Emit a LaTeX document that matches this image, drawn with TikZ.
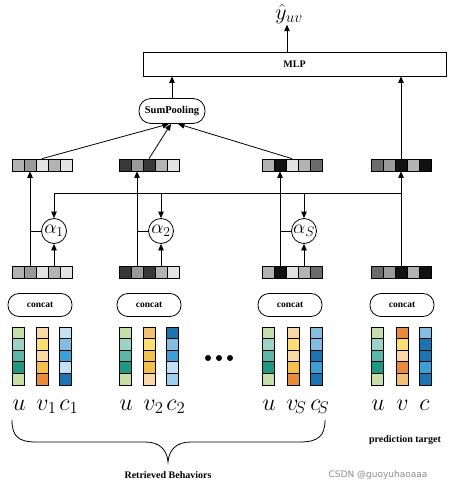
\RequirePackage{fix-cm}
\documentclass[tikz,border=0pt]{standalone}
\usepackage{fontspec}
\setmainfont{Liberation Serif}
\newfontfamily\wmfont{DejaVu Sans}
\usetikzlibrary{arrows.meta,calc}
% grays
\definecolor{ga}{HTML}{B3B3B3}
\definecolor{gb}{HTML}{9A9A9A}
\definecolor{gc}{HTML}{E3E3E3}
\definecolor{gd}{HTML}{383838}
\definecolor{ge}{HTML}{111111}
\definecolor{gf}{HTML}{6B6B6B}
% greens
\definecolor{ua}{HTML}{C6DEA8}
\definecolor{ub}{HTML}{9DD3C6}
\definecolor{uc}{HTML}{5BB8A6}
\definecolor{ud}{HTML}{1E9880}
% oranges
\definecolor{va}{HTML}{F9D8A6}
\definecolor{vb}{HTML}{FADF70}
\definecolor{vc}{HTML}{F5C04A}
\definecolor{vd}{HTML}{E88C3A}
\definecolor{ve}{HTML}{F2BF74}
% blues
\definecolor{ca}{HTML}{C2E1F3}
\definecolor{cb}{HTML}{85BDE0}
\definecolor{cc}{HTML}{3AA0D6}
\definecolor{cd}{HTML}{1C75B3}
\definecolor{ce}{HTML}{9DD0EE}
\newcommand{\embar}[4]{%
  \foreach \cl [count=\i from 0] in {#4} {\filldraw[fill=\cl,draw=black,line width=0.7pt] (#2+12*\i,#3-6) rectangle ++(12,12);}
  \node[bar,anchor=west] (#1) at (#2,#3) {};}
\newcommand{\ecol}[2]{%
  \foreach \cl [count=\i from 0] in {#2} {\filldraw[fill=\cl,draw=black,line width=0.7pt] (#1,327+11.6*\i) rectangle ++(12,11.6);}}
\tikzset{
  bar/.style={draw,line width=0.7pt,minimum width=60,minimum height=12,inner sep=0},
  pill/.style={draw,rounded corners=11pt,minimum width=64,minimum height=23,inner sep=1pt,font=\bfseries\fontsize{9.5}{10}\selectfont},
  att/.style={circle,draw,minimum size=25,inner sep=0,font=\fontsize{19.5}{19.5}\selectfont},
  lbl/.style={anchor=base west,inner sep=0,font=\fontsize{24}{24}\selectfont},
  captext/.style={font=\bfseries\fontsize{10}{11}\selectfont,inner sep=0},
}
\begin{document}
\begin{tikzpicture}[x=1pt,y=-1pt,line width=0.8pt,>={Triangle[length=6.5pt,width=5.5pt]}]
\useasboundingbox (0,0) rectangle (448,490);
% MLP and output
\node[draw,minimum width=303,minimum height=24,inner sep=0,font=\bfseries\fontsize{10}{11}\selectfont] (mlp) at (294.5,64) {MLP};
\node[inner sep=0.5pt,font=\fontsize{22}{22}\selectfont] (yhat) at (289,14) {$\hat{y}_{uv}$};
\draw[->] (287,52) coordinate (mt) -- (mt |- yhat.south);
\node[draw,rounded corners=12pt,minimum width=66,minimum height=25,inner sep=2pt,font=\bfseries\fontsize{10.5}{11}\selectfont] (sp) at (172,111) {SumPooling};
\draw[->] (sp.north) -- (sp.north |- mlp.south);
% embedding bars
\embar{t1}{12}{165}{ga,gb,gc,ga,gc}
\embar{t2}{119}{165}{gd,gb,gd,ga,gc}
\embar{t3}{262}{165}{ga,ge,gc,ga,gf}
\embar{t4}{371}{165}{gf,gb,ge,ga,ge}
\embar{b1}{12}{272}{ga,gb,gc,ga,gc}
\embar{b2}{119}{272}{gd,gb,gd,ga,gc}
\embar{b3}{262}{272}{ga,ge,gc,ga,gf}
\embar{b4}{371}{272}{gf,gb,ge,ga,ge}
% to sum pooling
\draw[->] ($(t1.north west)+(30,0)$) -- ($(sp.south)+(-3,0)$);
\draw[->] ($(t2.north west)+(30,0)$) -- ($(sp.south)+(-1,0)$);
\draw[->] ($(t3.north west)+(30,0)$) -- ($(sp.south)+(6,0)$);
\coordinate (t4c) at ($(t4.north west)+(30,0)$);
\draw[->] (t4c) -- (t4c |- mlp.south);
% attention units
\node[att] (a1) at (54,231) {$\alpha_1$};
\node[att] (a2) at (161,231) {$\alpha_2$};
\node[att] (a3) at (304,231) {$\alpha_S$};
\coordinate (b4u) at ($(b4.north west)+(30,0)$);
\draw[->] (b4u) -- ($(t4.south west)+(30,0)$);
\coordinate (hr) at (401,193);
\draw (a1.north |- hr) -- (hr);
\foreach \k in {1,2,3} {
  \coordinate (bu\k) at ($(b\k.north west)+(18,0)$);
  \draw[->] (bu\k) -- ($(t\k.south west)+(18,0)$);
  \draw (a\k.west) -- (a\k.west -| bu\k);
  \draw[->] (a\k.south |- b\k.north) -- (a\k.south);
  \draw[->] (a\k.north |- hr) -- (a\k.north);
}
% concat
\node[pill] (k1) at (40,305) {concat};
\node[pill] (k2) at (149,305) {concat};
\node[pill] (k3) at (290,305) {concat};
\node[pill] (k4) at (402,305) {concat};
% feature columns
\ecol{12}{ua,ub,uc,ud,ua}
\ecol{36}{va,vb,va,vc,vd}
\ecol{59}{ca,cb,cc,ca,cd}
\ecol{119}{ua,ub,uc,ud,ua}
\ecol{143}{ve,vb,vc,vc,va}
\ecol{166}{cd,cb,cc,ca,ce}
\ecol{262}{ua,ub,uc,ud,ua}
\ecol{287}{va,vb,va,vc,vd}
\ecol{310}{cb,cb,cd,cc,cd}
\ecol{371}{ua,ub,uc,ud,ua}
\ecol{396}{vd,vb,va,vd,ve}
\ecol{419}{cb,cd,cd,cc,cd}
% labels
\node[lbl] (l1) at (12,410) {$u$};
\node[lbl] (l2) at (36,410) {$v_1$};
\node[lbl] (l3) at (59,410) {$c_1$};
\node[lbl] (l4) at (119,410) {$u$};
\node[lbl] (l5) at (143,410) {$v_2$};
\node[lbl] (l6) at (166,410) {$c_2$};
\node[lbl] (l7) at (262,410) {$u$};
\node[lbl] (l8) at (286,410) {$v_{\!S}$};
\node[lbl] (l9) at (310,410) {$c_{\!S}$};
\node[lbl] (l10) at (371,410) {$u$};
\node[lbl] (l11) at (396,410) {$v$};
\node[lbl] (l12) at (419,410) {$c$};
% dots
\foreach \dx in {208,219,230} \fill (\dx,358) circle (3);
% brace
\draw (12,420) .. controls (12,436) and (18,442) .. (36,442) -- (145,442) .. controls (160,442) and (167,450) .. (168,462)
  .. controls (169,450) and (176,442) .. (191,442) -- (300,442) .. controls (318,442) and (325,436) .. (325,420);
\node[captext] (rb) at (168,475) {Retrieved Behaviors};
\node[captext] (pt) at (405,440) {prediction target};
\node[inner sep=0,text=black!45,font=\wmfont\fontsize{9}{10}\selectfont] (wm) at (378,475) {CSDN @guoyuhaoaaa};
\end{tikzpicture}
\end{document}
